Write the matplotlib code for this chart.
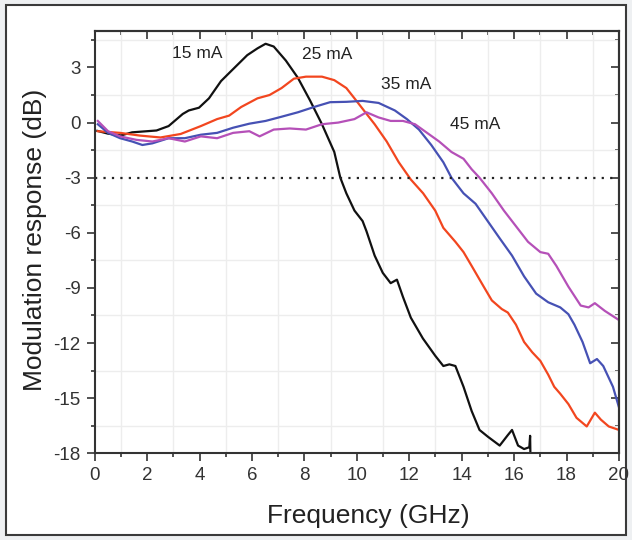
import matplotlib
matplotlib.use('Agg')
import matplotlib.pyplot as plt
from matplotlib.ticker import MultipleLocator
from matplotlib.patches import Rectangle

# frequency (GHz) / modulation response (dB)
f_15 = [0.1, 0.5, 1.0, 1.43, 2.36, 2.82, 3.36, 3.59, 3.98, 4.36, 4.82, 5.28, 5.82, 6.21, 6.52,
        6.83, 7.29, 7.75, 8.21, 8.67, 9.14, 9.37, 9.6, 9.91, 10.22, 10.37, 10.68, 10.99, 11.29,
        11.53, 11.76, 12.06, 12.52, 12.99, 13.3, 13.53, 13.76, 14.07, 14.38, 14.68, 15.0, 15.45,
        15.76, 15.92, 16.15, 16.38, 16.58, 16.61, 16.62]
r_15 = [-0.45, -0.6, -0.7, -0.53, -0.43, -0.19, 0.47, 0.66, 0.81, 1.32, 2.26, 2.91, 3.67, 4.04, 4.29,
        4.14, 3.38, 2.44, 1.22, -0.09, -1.6, -3.0, -3.85, -4.79, -5.36, -5.92, -7.24, -8.18, -8.74,
        -8.55, -9.49, -10.62, -11.75, -12.69, -13.25, -13.16, -13.25, -14.38, -15.7, -16.73, -17.1, -17.58,
        -17.01, -16.73, -17.58, -17.77, -17.67, -17.05, -17.95]

f_25 = [0.12, 0.97, 1.74, 2.51, 3.28, 4.05, 4.67, 5.13, 5.59, 6.21, 6.67, 7.13, 7.6, 8.06, 8.67,
        9.14, 9.6, 9.91, 10.22, 10.68, 11.14, 11.6, 12.06, 12.53, 12.99, 13.3, 13.76, 14.07, 14.38,
        14.84, 15.15, 15.53, 15.76, 16.07, 16.38, 16.69, 17.0, 17.3, 17.53, 17.76, 18.07, 18.38,
        18.77, 19.08, 19.31, 19.61, 20.0]
r_25 = [-0.47, -0.56, -0.71, -0.81, -0.62, -0.19, 0.19, 0.38, 0.85, 1.32, 1.5, 1.88, 2.39, 2.5, 2.5,
        2.31, 1.88, 1.32, 0.75, -0.09, -1.03, -2.16, -3.1, -3.85, -4.79, -5.73, -6.49, -7.05, -7.8,
        -8.93, -9.68, -10.15, -10.34, -11.0, -11.94, -12.5, -12.97, -13.72, -14.38, -14.76, -15.32, -16.07,
        -16.54, -15.79, -16.17, -16.54, -16.73]

f_35 = [0.12, 0.51, 0.97, 1.43, 1.82, 2.2, 2.82, 3.44, 4.05, 4.67, 5.28, 5.9, 6.52, 7.13, 7.75,
        8.37, 8.98, 9.6, 10.22, 10.83, 11.45, 11.91, 12.37, 12.84, 13.3, 13.61, 14.07, 14.53, 14.99,
        15.45, 15.92, 16.38, 16.84, 17.3, 17.76, 18.07, 18.3, 18.61, 18.9, 19.16, 19.4, 19.77, 20.0]
r_35 = [-0.09, -0.56, -0.85, -1.03, -1.22, -1.13, -0.85, -0.85, -0.66, -0.56, -0.28, -0.06, 0.09, 0.32, 0.56,
        0.85, 1.11, 1.13, 1.18, 1.07, 0.66, 0.19, -0.38, -1.22, -2.16, -3.0, -3.85, -4.42, -5.36,
        -6.3, -7.24, -8.37, -9.31, -9.78, -10.06, -10.43, -11.0, -11.94, -13.1, -12.87, -13.25, -14.38, -15.5]

f_45 = [0.12, 0.51, 0.97, 1.59, 2.2, 2.82, 3.44, 4.05, 4.67, 5.28, 5.9, 6.29, 6.83, 7.44, 8.06,
        8.67, 9.29, 9.91, 10.37, 10.83, 11.29, 11.76, 12.22, 12.68, 13.14, 13.61, 14.07, 14.38, 14.68,
        15.15, 15.61, 16.07, 16.53, 17.0, 17.3, 17.61, 18.07, 18.54, 18.84, 19.08, 19.46, 20.0]
r_45 = [0.09, -0.47, -0.75, -0.94, -1.03, -0.85, -1.03, -0.75, -0.85, -0.56, -0.47, -0.75, -0.38, -0.32, -0.38,
        -0.09, 0.0, 0.19, 0.56, 0.28, 0.09, 0.09, -0.09, -0.56, -1.03, -1.6, -1.97, -2.54, -3.0,
        -3.85, -4.79, -5.64, -6.49, -7.05, -7.14, -7.8, -8.93, -9.96, -10.06, -9.83, -10.25, -10.75]

labels = ['15 mA', '25 mA', '35 mA', '45 mA']
label_pos = [(3.9, 3.78), (8.87, 3.72), (11.87, 2.05), (14.52, -0.13)]

plt.rcParams['font.family'] = ['Liberation Sans', 'DejaVu Sans']
plt.rcParams['axes.unicode_minus'] = False

fig = plt.figure(figsize=(6.32, 5.4), dpi=100, facecolor='#eef0f2')
fig.patches.append(Rectangle((6/632, 5/540), 620/632, 530/540, transform=fig.transFigure,
                             facecolor='white', edgecolor='#3a3a3a', linewidth=1.5, zorder=-10))
ax = fig.add_axes([0.1498, 0.1606, 0.8296, 0.7825])
ax.set_facecolor('none')

ax.plot(f_15, r_15, color='#111111', lw=1.6)
ax.plot(f_25, r_25, color='#f2461f', lw=1.6)
ax.plot(f_35, r_35, color='#4651b4', lw=1.6)
ax.plot(f_45, r_45, color='#b550b8', lw=1.6)
ax.axhline(-3, color='#222222', lw=1.6, ls=(0, (1, 2.8)))

for lab, (x, y) in zip(labels, label_pos):
    ax.text(x, y, lab, fontsize=12.5, color='#222222', ha='center', va='center')

ax.set_xlim(0, 20)
ax.set_ylim(-18, 5)
ax.xaxis.set_major_locator(MultipleLocator(2))
ax.xaxis.set_minor_locator(MultipleLocator(1))
ax.set_yticks([-18, -15, -12, -9, -6, -3, 0, 3])
ax.set_yticks([-16.5, -13.5, -10.5, -7.5, -4.5, -1.5, 1.5, 4.5], minor=True)
ax.grid(which='minor', color='#ededed', lw=1.0)
ax.grid(which='major', visible=False)
ax.set_axisbelow(True)

for s in ax.spines.values():
    s.set_linewidth(1.5)
    s.set_color('#333333')
ax.tick_params(which='major', direction='out', length=6, width=1.2, color='#333333',
               labelsize=13.5, labelcolor='#333333', pad=4)
ax.tick_params(which='minor', direction='out', length=3, width=1.2, color='#333333')

top = ax.secondary_xaxis('top')
top.xaxis.set_major_locator(MultipleLocator(2))
top.xaxis.set_minor_locator(MultipleLocator(1))
top.tick_params(which='major', direction='in', length=6, width=1.2, color='#333333', labeltop=False)
top.tick_params(which='minor', direction='in', length=3, width=1.2, color='#333333')
right = ax.secondary_yaxis('right')
right.set_yticks([-18, -15, -12, -9, -6, -3, 0, 3])
right.set_yticks([-16.5, -13.5, -10.5, -7.5, -4.5, -1.5, 1.5, 4.5], minor=True)
right.tick_params(which='major', direction='in', length=6, width=1.2, color='#333333', labelright=False)
right.tick_params(which='minor', direction='in', length=3, width=1.2, color='#333333')
for sa in (top, right):
    for s in sa.spines.values():
        s.set_linewidth(1.5)
        s.set_color('#333333')

fig.text(368/632, 0.032, 'Frequency (GHz)', fontsize=19, color='#222222', ha='center', va='baseline')
fig.text(0.055, 0.556, 'Modulation response (dB)', fontsize=19, color='#222222',
         rotation=90, ha='center', va='center')

fig.savefig('out.png', dpi=100, facecolor=fig.get_facecolor())
